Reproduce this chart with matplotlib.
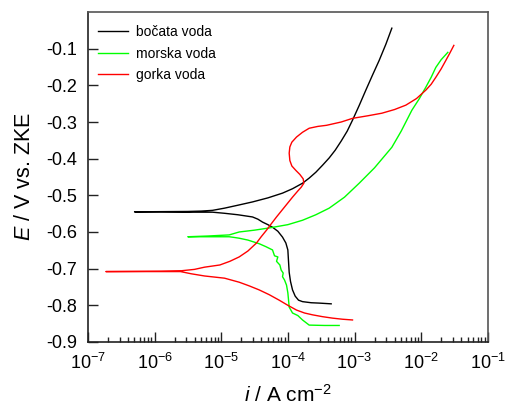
import numpy as np
import matplotlib
matplotlib.use("Agg")
import matplotlib.pyplot as plt
from matplotlib.ticker import LogLocator, NullFormatter

plt.rcParams['font.family'] = ['Liberation Sans', 'DejaVu Sans']
plt.rcParams['mathtext.fontset'] = 'custom'
plt.rcParams['mathtext.rm'] = 'Liberation Sans'
plt.rcParams['mathtext.it'] = 'Liberation Sans:italic'
plt.rcParams['axes.unicode_minus'] = False

# log10(i / A cm-2) and E / V
bocata_kat_log = [-6.30, -5.90, -5.50, -5.13, -4.95, -4.75, -4.53, -4.45, -4.38, -4.30,
                  -4.23, -4.15, -4.08, -4.03, -4.00, -3.99, -3.98, -3.96, -3.93, -3.89,
                  -3.84, -3.78, -3.65, -3.53, -3.35]
bocata_kat_E = [-0.545, -0.545, -0.546, -0.546, -0.549, -0.553, -0.559, -0.565, -0.573, -0.580,
                -0.587, -0.598, -0.614, -0.630, -0.649, -0.680, -0.710, -0.735, -0.758, -0.775,
                -0.786, -0.790, -0.793, -0.794, -0.796]
bocata_an_log = [-6.30, -5.50, -5.30, -5.13, -4.95, -4.75, -4.53, -4.30, -4.08, -3.93,
                 -3.78, -3.68, -3.58, -3.48, -3.38, -3.29, -3.20, -3.11, -3.03, -2.93,
                 -2.83, -2.73, -2.63, -2.53, -2.44]
bocata_an_E = [-0.545, -0.544, -0.543, -0.541, -0.535, -0.527, -0.518, -0.507, -0.494, -0.482,
               -0.467, -0.453, -0.437, -0.418, -0.398, -0.377, -0.352, -0.325, -0.295, -0.255,
               -0.213, -0.172, -0.132, -0.088, -0.044]

morska_kat_log = [-5.50, -5.20, -4.88, -4.80, -4.73, -4.60, -4.43, -4.33, -4.23, -4.20,
                  -4.15, -4.17, -4.12, -4.10, -4.07, -4.08, -4.05, -4.02, -4.00, -3.99,
                  -3.98, -3.93, -3.85, -3.78, -3.68, -3.45, -3.23]
morska_kat_E = [-0.613, -0.613, -0.613, -0.615, -0.617, -0.622, -0.632, -0.640, -0.649, -0.665,
                -0.668, -0.680, -0.690, -0.704, -0.712, -0.722, -0.731, -0.745, -0.766, -0.785,
                -0.805, -0.821, -0.828, -0.840, -0.854, -0.855, -0.855]
morska_an_log = [-5.50, -5.20, -4.88, -4.73, -4.50, -4.28, -4.00, -3.78, -3.58, -3.38,
                 -3.15, -2.93, -2.70, -2.44, -2.30, -2.14, -2.03, -1.93, -1.85, -1.78,
                 -1.70, -1.60]
morska_an_E = [-0.613, -0.611, -0.608, -0.600, -0.595, -0.589, -0.580, -0.568, -0.553, -0.535,
               -0.505, -0.467, -0.425, -0.369, -0.325, -0.268, -0.237, -0.205, -0.178, -0.151,
               -0.130, -0.110]

gorka_kat_log = [-6.73, -6.20, -5.61, -5.45, -5.25, -4.95, -4.73, -4.58, -4.43, -4.28,
                 -4.13, -4.00, -3.87, -3.75, -3.63, -3.48, -3.33, -3.18, -3.03]
gorka_kat_E = [-0.708, -0.708, -0.708, -0.714, -0.720, -0.726, -0.737, -0.747, -0.758, -0.771,
               -0.786, -0.800, -0.813, -0.821, -0.826, -0.831, -0.835, -0.838, -0.840]
gorka_an_log = [-6.73, -5.90, -5.61, -5.40, -5.25, -5.02, -4.87, -4.73, -4.60, -4.47,
                -4.40, -4.32, -4.25, -4.17, -4.05, -3.93, -3.85, -3.80, -3.76, -3.77,
                -3.82, -3.88, -3.94, -3.97, -3.98, -3.97, -3.94, -3.87, -3.78, -3.68,
                -3.55, -3.42, -3.20, -3.03, -2.80, -2.59, -2.40, -2.23, -2.07, -1.93,
                -1.85, -1.78, -1.70, -1.63, -1.57, -1.51]
gorka_an_E = [-0.708, -0.707, -0.706, -0.702, -0.696, -0.690, -0.680, -0.668, -0.652, -0.630,
              -0.613, -0.595, -0.578, -0.559, -0.532, -0.505, -0.488, -0.478, -0.467, -0.455,
              -0.443, -0.432, -0.420, -0.405, -0.385, -0.368, -0.355, -0.341, -0.328, -0.317,
              -0.312, -0.309, -0.300, -0.290, -0.283, -0.276, -0.266, -0.254, -0.236, -0.213,
              -0.197, -0.178, -0.155, -0.132, -0.112, -0.091]

serije = [
    ("bočata voda", "black", bocata_kat_log, bocata_kat_E, bocata_an_log, bocata_an_E),
    ("morska voda", "#00ff00", morska_kat_log, morska_kat_E, morska_an_log, morska_an_E),
    ("gorka voda", "red", gorka_kat_log, gorka_kat_E, gorka_an_log, gorka_an_E),
]

fig = plt.figure(figsize=(5.05, 4.15), dpi=100)
ax = fig.add_axes([0.174, 0.176, 0.792, 0.795])

for ime, boja, kl, ke, al, ae in serije:
    x = np.concatenate([np.power(10.0, kl)[::-1], np.power(10.0, al)])
    y = np.concatenate([np.array(ke)[::-1], np.array(ae)])
    ax.plot(x, y, color=boja, lw=1.0, label=ime)

ax.set_xscale("log")
ax.set_xlim(1e-7, 1e-1)
ax.set_ylim(-0.9, 0.0)
ax.set_yticks(np.arange(-0.9, -0.05, 0.1))
ax.set_yticklabels([f"{v:.1f}" for v in np.arange(-0.9, -0.05, 0.1)])
ax.xaxis.set_major_locator(LogLocator(base=10, numticks=10))
ax.xaxis.set_minor_locator(LogLocator(base=10, subs=np.arange(2, 10), numticks=20))
ax.xaxis.set_minor_formatter(NullFormatter())

ax.tick_params(which="major", direction="in", length=7, width=1.0, labelsize=13, pad=8,
               top=False, right=False, color="#222222")
ax.tick_params(which="minor", direction="in", length=3.5, width=1.0, top=False, right=False,
               color="#222222")
for s in ax.spines.values():
    s.set_linewidth(1.2)
    s.set_color("#222222")
ax.spines["top"].set_color("#555555")
ax.spines["right"].set_color("#555555")

ax.set_xlabel("$i$ / A cm$^{-2}$", fontsize=15, labelpad=8)
ax.set_ylabel("$E$ / V vs. ZKE", fontsize=15.5, labelpad=8)

ax.legend(loc="upper left", frameon=False, fontsize=10, handlelength=2.2,
          handletextpad=0.6, labelspacing=0.55, borderaxespad=0.3,
          bbox_to_anchor=(0.0, 0.99))

fig.savefig("out.png", dpi=100)
